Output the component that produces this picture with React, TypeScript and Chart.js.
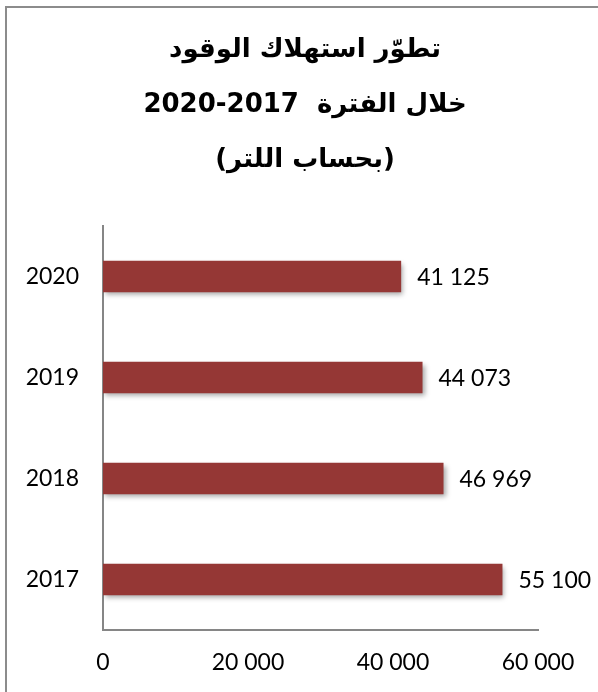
import React, { useEffect, useRef } from "react";
import { Chart, registerables } from "chart.js";

Chart.register(...registerables);

const years: string[] = ["2017", "2018", "2019", "2020"];
const consumption: number[] = [55100, 46969, 44073, 41125];
const titleLines: string[] = ["تطوّر استهلاك الوقود", "خلال الفترة  2017-2020", "(بحساب اللتر)"];
const xMin = 0;
const xMax = 60000;
const xStep = 20000;

const fmt = (n: number) => String(Math.round(n)).replace(/\B(?=(\d{3})+(?!\d))/g, " ");

const LATIN = "Lato, 'Open Sans', sans-serif";

export default function App() {
  const ref = useRef<HTMLCanvasElement | null>(null);

  useEffect(() => {
    if (!ref.current) return;

    const shadowPlugin = {
      id: "barShadow",
      beforeDatasetsDraw(chart: any) {
        const ctx = chart.ctx;
        ctx.save();
        ctx.shadowColor = "rgba(0,0,0,0.35)";
        ctx.shadowBlur = 5;
        ctx.shadowOffsetX = 2;
        ctx.shadowOffsetY = 3;
      },
      afterDatasetsDraw(chart: any) {
        chart.ctx.restore();
        const ctx = chart.ctx;
        const meta = chart.getDatasetMeta(0);
        ctx.save();
        ctx.font = `23px ${LATIN}`;
        ctx.fillStyle = "#000";
        ctx.textAlign = "left";
        ctx.textBaseline = "middle";
        meta.data.forEach((bar: any, i: number) => {
          ctx.fillText(fmt(chart.data.datasets[0].data[i]), bar.x + 16, bar.y + 1);
        });
        ctx.restore();
      },
    };

    const titlePlugin = {
      id: "arabicTitle",
      afterDraw(chart: any) {
        const ctx = chart.ctx;
        ctx.save();
        (ctx as any).direction = "rtl";
        ctx.textAlign = "center";
        ctx.textBaseline = "middle";
        ctx.fillStyle = "#000";
        ctx.font = "bold 26px 'DejaVu Sans', sans-serif";
        titleLines.forEach((t, i) => {
          ctx.fillText(t, 305, 50 + i * 55);
        });
        ctx.restore();
      },
    };

    const chart = new Chart(ref.current, {
      type: "bar",
      data: {
        labels: years,
        datasets: [
          {
            data: consumption,
            backgroundColor: "#953735",
            borderWidth: 0,
            categoryPercentage: 1,
            barPercentage: 0.31,
          },
        ],
      },
      options: {
        indexAxis: "y",
        animation: false,
        responsive: false,
        maintainAspectRatio: false,
        layout: { padding: { top: 226, right: 60, left: 0, bottom: 0 } },
        plugins: {
          legend: { display: false },
          title: { display: false },
          tooltip: { enabled: false },
        },
        scales: {
          x: {
            min: xMin,
            max: xMax,
            grid: { display: false, drawTicks: false },
            border: { display: true, color: "#868686", width: 2 },
            ticks: {
              stepSize: xStep,
              padding: 19,
              color: "#000",
              font: { family: LATIN, size: 23 },
              callback: (v: any) => fmt(Number(v)),
            },
            afterFit: (s: any) => {
              s.height = 62;
            },
          },
          y: {
            reverse: true,
            grid: { display: false, drawTicks: false },
            border: { display: true, color: "#868686", width: 2 },
            ticks: {
              padding: 24,
              color: "#000",
              font: { family: LATIN, size: 23 },
            },
            afterFit: (s: any) => {
              s.width = 103;
            },
          },
        },
      },
      plugins: [shadowPlugin, titlePlugin],
    } as any);

    return () => chart.destroy();
  }, []);

  return (
    <div style={{ position: "fixed", left: 0, top: 0, width: 598, height: 692, background: "#fff" }}>
      <div
        style={{
          position: "absolute",
          left: 5,
          top: 6,
          right: 0,
          bottom: 0,
          borderTop: "2px solid #8c8c8c",
          borderLeft: "2px solid #8c8c8c",
        }}
      />
      <canvas ref={ref} width={598} height={692} style={{ position: "absolute", left: 0, top: 0, width: 598, height: 692 }} />
    </div>
  );
}
